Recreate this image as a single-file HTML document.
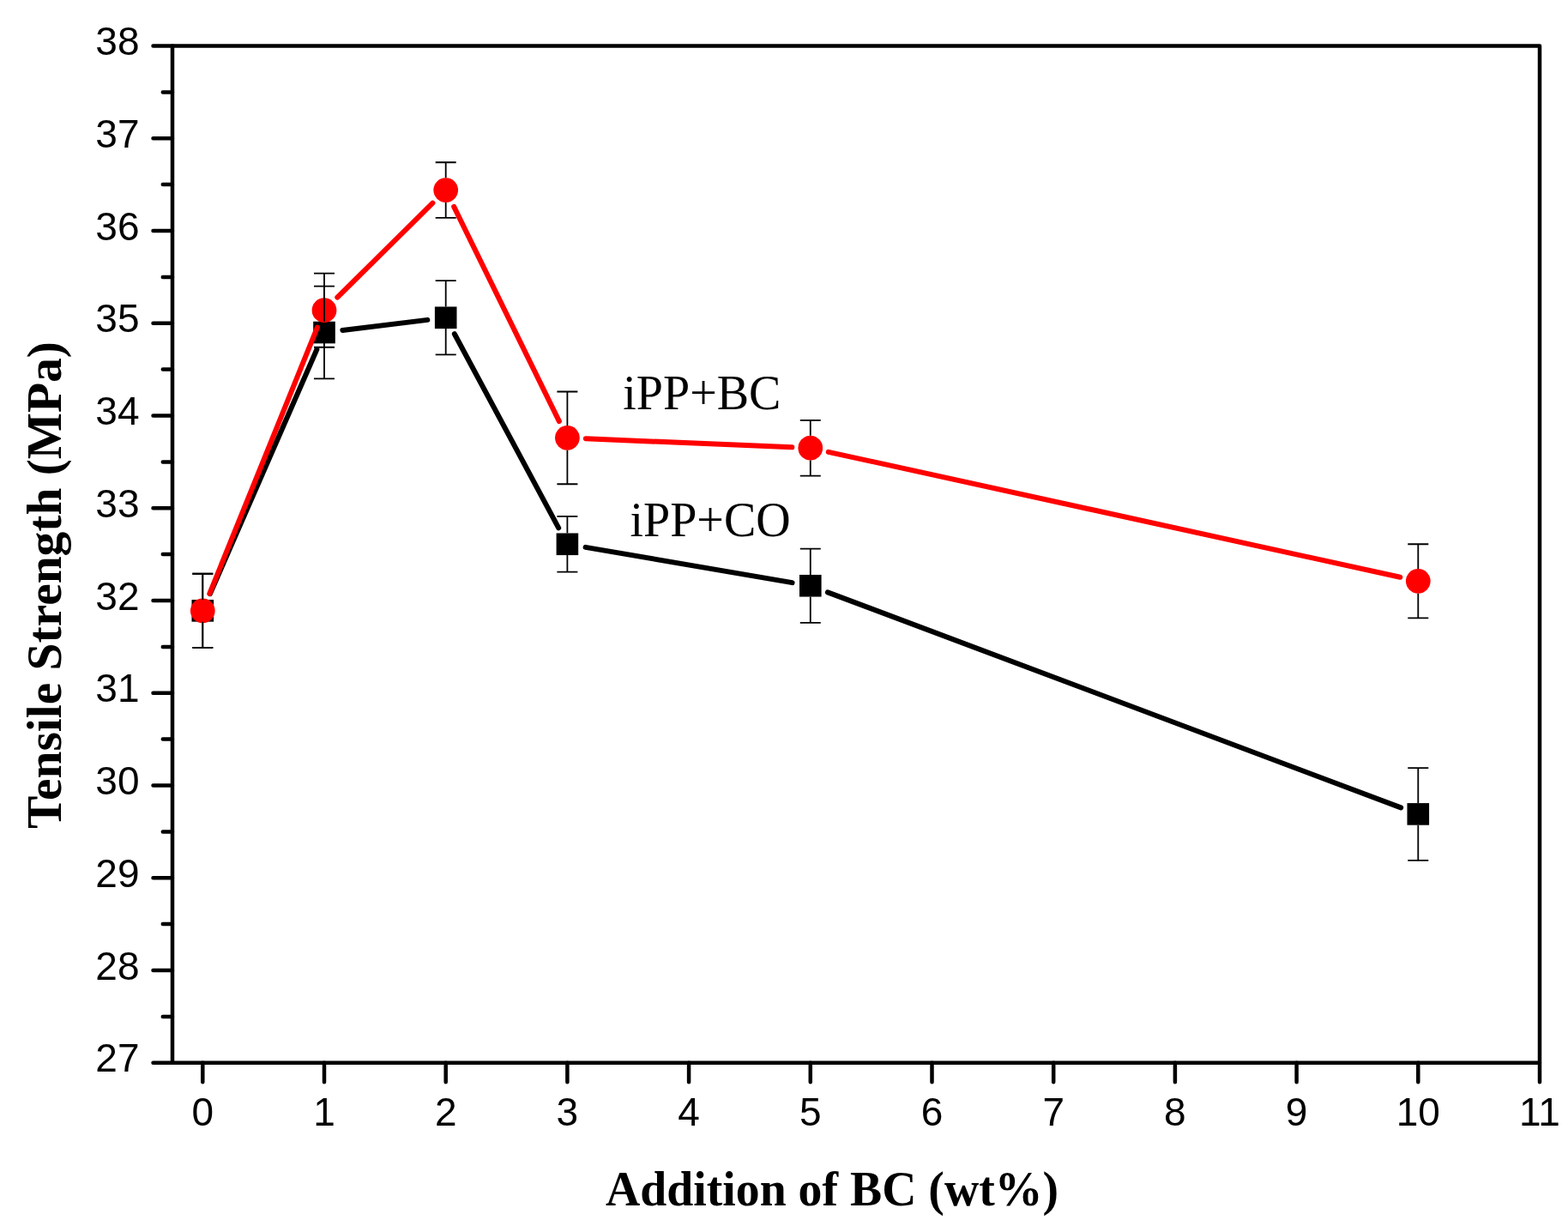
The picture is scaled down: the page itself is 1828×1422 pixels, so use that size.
<!DOCTYPE html>
<html><head><meta charset="utf-8"><title>Tensile Strength vs Addition of BC</title>
<style>html,body{margin:0;padding:0;background:#fff;}body{width:1828px;height:1422px;overflow:hidden;}svg{display:block;}</style>
</head><body>
<svg width="1828" height="1422" viewBox="0 0 1828 1422"><path d="M201.0 53.5H1795.0V1238.7H201.0Z" fill="none" stroke="#000" stroke-width="4.5" stroke-linejoin="round"/><path d="M201.0 53.5H178.5M201.0 161.25H178.5M201.0 269H178.5M201.0 376.75H178.5M201.0 484.5H178.5M201.0 592.25H178.5M201.0 700H178.5M201.0 807.75H178.5M201.0 915.5H178.5M201.0 1023.25H178.5M201.0 1131H178.5M201.0 1238.75H178.5M201.0 107.38H189.8M201.0 215.12H189.8M201.0 322.88H189.8M201.0 430.62H189.8M201.0 538.38H189.8M201.0 646.12H189.8M201.0 753.88H189.8M201.0 861.62H189.8M201.0 969.38H189.8M201.0 1077.12H189.8M201.0 1184.88H189.8M236.3 1238.7V1261.3M378 1238.7V1261.3M519.7 1238.7V1261.3M661.4 1238.7V1261.3M803.1 1238.7V1261.3M944.8 1238.7V1261.3M1086.5 1238.7V1261.3M1228.2 1238.7V1261.3M1369.9 1238.7V1261.3M1511.6 1238.7V1261.3M1653.3 1238.7V1261.3M1795 1238.7V1261.3" stroke="#000" stroke-width="4.5" stroke-linecap="round" fill="none"/><g font-family="Liberation Sans, Arial, sans-serif" font-size="46" fill="#000"><text x="162.5" y="64" text-anchor="end">38</text><text x="162.5" y="171.75" text-anchor="end">37</text><text x="162.5" y="279.5" text-anchor="end">36</text><text x="162.5" y="387.25" text-anchor="end">35</text><text x="162.5" y="495" text-anchor="end">34</text><text x="162.5" y="602.75" text-anchor="end">33</text><text x="162.5" y="710.5" text-anchor="end">32</text><text x="162.5" y="818.25" text-anchor="end">31</text><text x="162.5" y="926" text-anchor="end">30</text><text x="162.5" y="1033.75" text-anchor="end">29</text><text x="162.5" y="1141.5" text-anchor="end">28</text><text x="162.5" y="1249.25" text-anchor="end">27</text><text x="236.3" y="1312.3" text-anchor="middle">0</text><text x="378" y="1312.3" text-anchor="middle">1</text><text x="519.7" y="1312.3" text-anchor="middle">2</text><text x="661.4" y="1312.3" text-anchor="middle">3</text><text x="803.1" y="1312.3" text-anchor="middle">4</text><text x="944.8" y="1312.3" text-anchor="middle">5</text><text x="1086.5" y="1312.3" text-anchor="middle">6</text><text x="1228.2" y="1312.3" text-anchor="middle">7</text><text x="1369.9" y="1312.3" text-anchor="middle">8</text><text x="1511.6" y="1312.3" text-anchor="middle">9</text><text x="1653.3" y="1312.3" text-anchor="middle">10</text><text x="1795" y="1312.3" text-anchor="middle">11</text></g><g stroke="#000" stroke-width="6.0" stroke-linecap="round"><line x1="244.91" y1="692.15" x2="369.39" y2="407.23"/><line x1="399.34" y1="384.93" x2="498.36" y2="372.88"/><line x1="529.87" y1="389.23" x2="651.23" y2="615.33"/><line x1="682.59" y1="637.9" x2="923.61" y2="679.13"/><line x1="964.93" y1="690.32" x2="1633.17" y2="941.34"/></g><g fill="#000"><rect x="223.5" y="699.05" width="25.6" height="25.6"/><rect x="365.2" y="374.73" width="25.6" height="25.6"/><rect x="506.9" y="357.48" width="25.6" height="25.6"/><rect x="648.6" y="621.47" width="25.6" height="25.6"/><rect x="932" y="669.96" width="25.6" height="25.6"/><rect x="1640.5" y="936.1" width="25.6" height="25.6"/></g><g stroke="#f00" stroke-width="6.0" stroke-linecap="round"><line x1="244.36" y1="691.92" x2="369.94" y2="381.6"/><line x1="393.29" y1="346.55" x2="504.41" y2="236.7"/><line x1="529.17" y1="240.89" x2="651.93" y2="491.06"/><line x1="682.88" y1="511.26" x2="923.32" y2="521.31"/><line x1="965.8" y1="526.81" x2="1632.3" y2="672.77"/></g><g fill="#f00"><circle cx="236.3" cy="711.85" r="14.35"/><circle cx="378" cy="361.66" r="14.35"/><circle cx="519.7" cy="221.59" r="14.35"/><circle cx="661.4" cy="510.36" r="14.35"/><circle cx="944.8" cy="522.21" r="14.35"/><circle cx="1653.3" cy="677.37" r="14.35"/></g><g stroke="#000" stroke-width="1.8" fill="none"><path d="M224.3 668.75H248.3M236.3 668.75V699.05M236.3 724.65V754.95M224.3 754.95H248.3"/><path d="M366 333.65H390M378 333.65V374.73M378 400.33V441.4M366 441.4H390"/><path d="M507.7 327.18H531.7M519.7 327.18V357.48M519.7 383.08V413.38M507.7 413.38H531.7"/><path d="M649.4 601.95H673.4M661.4 601.95V621.47M661.4 647.07V666.6M649.4 666.6H673.4"/><path d="M932.8 639.66H956.8M944.8 639.66V669.96M944.8 695.56V725.86M932.8 725.86H956.8"/><path d="M1641.3 895.03H1665.3M1653.3 895.03V936.1M1653.3 961.7V1002.78M1641.3 1002.78H1665.3"/></g><g stroke="#000" stroke-width="1.8" fill="none"><path d="M224.3 668.75H248.3M236.3 668.75V697.5M236.3 726.2V754.95M224.3 754.95H248.3"/><path d="M366 318.57H390M378 318.57V347.31M378 376.01V404.76M366 404.76H390"/><path d="M507.7 189.27H531.7M519.7 189.27V207.24M519.7 235.94V253.91M507.7 253.91H531.7"/><path d="M649.4 456.49H673.4M661.4 456.49V496.01M661.4 524.71V564.24M649.4 564.24H673.4"/><path d="M932.8 489.89H956.8M944.8 489.89V507.86M944.8 536.56V554.54M932.8 554.54H956.8"/><path d="M1641.3 634.27H1665.3M1653.3 634.27V663.02M1653.3 691.72V720.47M1641.3 720.47H1665.3"/></g><g font-family="Liberation Serif, Times New Roman, serif" font-size="56" fill="#000"><text x="726.3" y="477">iPP+BC</text><text x="734.5" y="625">iPP+CO</text></g><g font-family="Liberation Serif, Times New Roman, serif" font-weight="bold" font-size="57.5" fill="#000"><text x="706" y="1405.3" textLength="528" lengthAdjust="spacingAndGlyphs">Addition of BC (wt%)</text></g><g font-family="Liberation Serif, Times New Roman, serif" font-weight="bold" font-size="57" fill="#000"><text transform="translate(70.6 966) rotate(-90)" textLength="568" lengthAdjust="spacingAndGlyphs">Tensile Strength (MPa)</text></g></svg>
</body></html>
